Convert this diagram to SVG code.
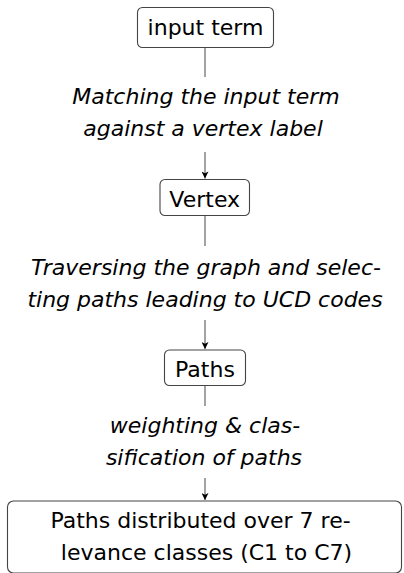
<svg xmlns="http://www.w3.org/2000/svg" width="404" height="573" viewBox="0 0 404 573">
<style>
.box{fill:#fff;stroke:#444;stroke-width:1.1}
.nt{font-family:"DejaVu Sans",sans-serif;font-size:22px;fill:#000;text-anchor:middle}
.lb{font-family:"DejaVu Sans",sans-serif;font-style:italic;font-size:22px;fill:#000;text-anchor:middle}
.ln{stroke:#666;stroke-width:1.2;fill:none}
</style>
<defs>
<marker id="ah" viewBox="0 0 10 10" refX="10" refY="5" markerWidth="10" markerHeight="7" markerUnits="userSpaceOnUse" orient="auto">
<path d="M0,0 L10,5 L0,10 L2.5,5 Z" fill="#000"/>
</marker>
</defs>
<rect width="404" height="573" fill="#fff"/>
<g id="connectors">
<line class="ln" x1="205" y1="48" x2="205" y2="77"/>
<line class="ln" x1="205" y1="152" x2="205" y2="178.5" marker-end="url(#ah)"/>
<line class="ln" x1="205" y1="216" x2="205" y2="246"/>
<line class="ln" x1="205" y1="320" x2="205" y2="349" marker-end="url(#ah)"/>
<line class="ln" x1="205" y1="386" x2="205" y2="406"/>
<line class="ln" x1="205" y1="478" x2="205" y2="500" marker-end="url(#ah)"/>
<g id="labels">
<text class="lb" x="206" y="104">Matching the input term</text>
<text class="lb" x="203" y="136">against a vertex label</text>
<text class="lb" x="206" y="275">Traversing the graph and selec-</text>
<text class="lb" x="205" y="307">ting paths leading to UCD codes</text>
<text class="lb" x="205" y="433">weighting &amp; clas-</text>
<text class="lb" x="204" y="465">sification of paths</text>
</g>
</g>
<g id="input-term">
<rect class="box" x="137.5" y="7.5" width="136" height="40" rx="5"/>
<text class="nt" x="205.5" y="35">input term</text>
</g>
<g id="vertex">
<rect class="box" x="160" y="179.5" width="89.5" height="36" rx="5"/>
<text class="nt" x="204.7" y="206.5">Vertex</text>
</g>
<g id="paths">
<rect class="box" x="164.5" y="350" width="81" height="35.5" rx="5"/>
<text class="nt" x="205" y="376.5">Paths</text>
</g>
<g id="classes">
<rect class="box" x="7.5" y="501" width="394" height="72" rx="6"/>
<text class="nt" x="200.5" y="528">Paths distributed over 7 re-</text>
<text class="nt" x="206.5" y="560">levance classes (C1 to C7)</text>
</g>
</svg>
